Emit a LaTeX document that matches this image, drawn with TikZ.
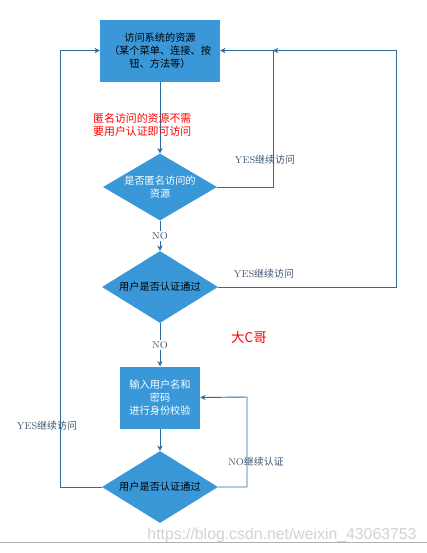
\documentclass[tikz,border=0pt]{standalone}
\usepackage{fontspec}
\newfontfamily\cjk{Noto Sans CJK SC}
\newfontfamily\wmfont{Liberation Sans}
\usetikzlibrary{shapes.geometric,arrows.meta}
\definecolor{flowblue}{HTML}{3A98D9}
\definecolor{flowline}{HTML}{2A6C9F}
\definecolor{labelgray}{HTML}{3E5670}
\tikzset{
  txt/.style={font=\cjk\fontsize{8.7}{11}\selectfont, align=center},
  procbox/.style={txt, fill=flowblue, draw=none, minimum width=#1, minimum height=1.86cm, inner sep=1pt},
  decide/.style={txt, diamond, fill=flowblue, draw=none, inner sep=0pt, aspect=1.6,
    minimum width=3.48cm, minimum height=2.16cm},
  arr/.style={draw=flowline, line width=0.8pt, -{Stealth[length=4.5pt,width=4.5pt]}},
  lbl/.style={font=\fontsize{8.5}{11}\selectfont, text=labelgray},
  nolbl/.style={lbl, fill=white, inner sep=1pt}
}
\begin{document}
\begin{tikzpicture}[x=0.03cm, y=-0.03cm]
  \useasboundingbox (0,0) rectangle (427,553);
  \node[procbox=3.6cm, text=black] (n_res) at (160,50.5) {访问系统的资源\\（某个菜单、连接、按\\钮、方法等）};
  \node[decide, text=white, minimum width=3.42cm, minimum height=2.01cm] (n_anon) at (160,187) {是否匿名访问的\\资源};
  \node[decide, text=black] (n_auth) at (160,287) {用户是否认证通过};
  \node[procbox=2.4cm, text=white] (n_login) at (160,397.5) {输入用户名和\\密码\\进行身份校验};
  \node[decide, text=black] (n_check) at (160,487) {用户是否认证通过};

  \coordinate (j1) at (273,50.5);
  \coordinate (j2) at (396,50.5);
  \coordinate (j3) at (247,397);
  \coordinate (j4) at (60.5,50.5);

  \draw[arr] (n_res) -- (n_anon);
  \draw[arr] (n_anon) -- node[nolbl] (l_no1) {NO} (n_auth);
  \draw[arr] (n_auth) -- node[nolbl] (l_no2) {NO} (n_login);
  \draw[arr] (n_login) -- (n_check);
  \draw[arr] (n_anon.east) -| (j1) -- (n_res.east);
  \draw[arr] (n_auth.east) -| (j2) -- (j1);
  \draw[arr] (n_check.east) -| (j3) -- (n_login.east);
  \draw[arr] (n_check.west) -| (j4) -- (n_res.west);

  \node[txt, font=\cjk\fontsize{9.3}{11}\selectfont, align=left, anchor=north west, text=red, inner sep=0pt] (n_note) at (93,113) {匿名访问的资源不需\\要用户认证即可访问};
  \node[lbl] (l_yes1) at (265,160) {YES{\cjk 继续访问}};
  \node[lbl] (l_yes2) at (264,274) {YES{\cjk 继续访问}};
  \node[lbl] (l_yes3) at (47,426) {YES{\cjk 继续访问}};
  \node[lbl] (l_nocont) at (256,462) {NO{\cjk 继续认证}};
  \node[font=\cjk\fontsize{11.5}{14}\selectfont, text=red] (n_sign) at (249,337) {大C哥};

  \node[font=\wmfont\fontsize{13.5}{15}\selectfont, text=black!18] (n_mark) at (282,535) {https://blog.csdn.net/weixin\_43063753};
  \draw[black!30, line width=0.8pt] (0,542) -- (427,542);
\end{tikzpicture}
\end{document}
